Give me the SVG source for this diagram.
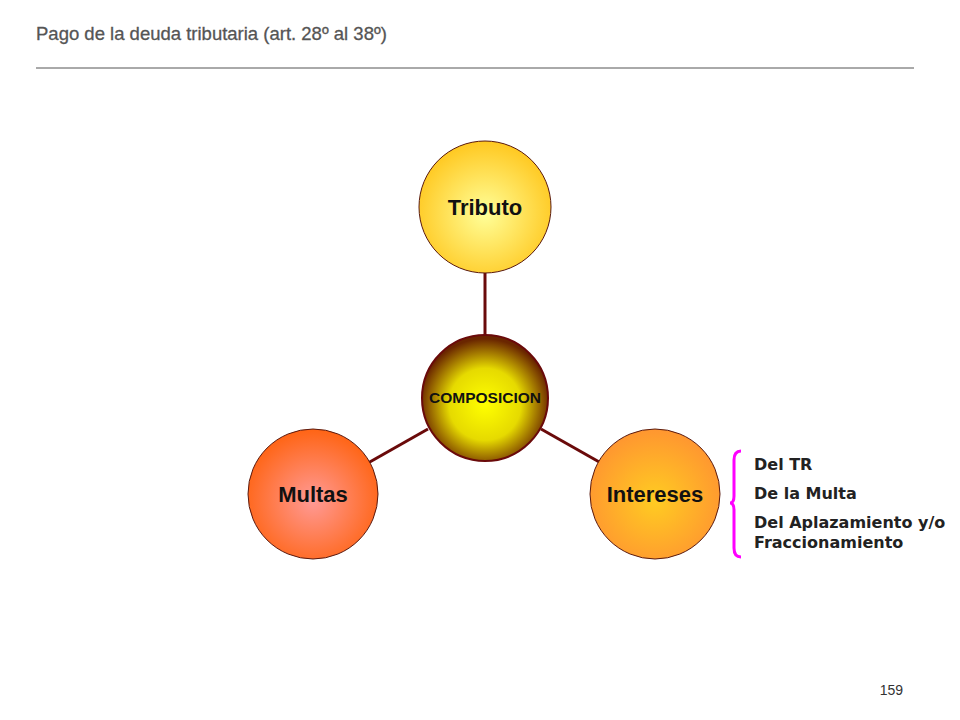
<svg xmlns="http://www.w3.org/2000/svg" width="960" height="720" viewBox="0 0 960 720">
<defs>
<radialGradient id="gTrib" cx="50%" cy="55%" r="55%">
<stop offset="0" stop-color="#ffff99"/>
<stop offset="1" stop-color="#ffc820"/>
</radialGradient>
<radialGradient id="gComp" cx="50%" cy="55%" r="52%">
<stop offset="0" stop-color="#ffff00"/>
<stop offset="0.55" stop-color="#e6da00"/>
<stop offset="1" stop-color="#6a2600"/>
</radialGradient>
<radialGradient id="gMult" cx="50%" cy="55%" r="55%">
<stop offset="0" stop-color="#ff9a96"/>
<stop offset="1" stop-color="#ff6414"/>
</radialGradient>
<radialGradient id="gInt" cx="50%" cy="55%" r="55%">
<stop offset="0" stop-color="#ffcc22"/>
<stop offset="1" stop-color="#ff9630"/>
</radialGradient>
<style>
.node{stroke:#5a1a10;stroke-width:1}
.lbl{font-family:"Liberation Sans",Arial,sans-serif;font-size:22px;font-weight:bold;fill:#111;text-anchor:middle}
.conn{stroke:#6a0a0a;stroke-width:3;fill:none}
.side{font-family:"DejaVu Sans",Verdana,sans-serif;font-size:16px;font-weight:bold;fill:#222}
</style>
</defs>
<g id="header">
<text x="36" y="40" font-family="Liberation Sans, Arial, sans-serif" font-size="18.5" fill="#555" stroke="#555" stroke-width="0.3">Pago de la deuda tributaria (art. 28º al 38º)</text>
<line x1="36" y1="68" x2="914" y2="68" stroke="#555" stroke-width="1"/>
</g>
<g id="connectors">
<line class="conn" x1="485" y1="270" x2="485" y2="336"/>
<line class="conn" x1="428" y1="429" x2="368" y2="463"/>
<line class="conn" x1="541" y1="429" x2="601" y2="463"/>
</g>
<g id="tributo">
<circle class="node" cx="485" cy="207" r="66" fill="url(#gTrib)"/>
<text class="lbl" x="485" y="215">Tributo</text>
</g>
<g id="composicion">
<circle cx="485" cy="398" r="63" fill="url(#gComp)" stroke="#6a0a0a" stroke-width="2"/>
<text x="485" y="403" font-family="Liberation Sans, Arial, sans-serif" font-size="15.5" font-weight="bold" fill="#111" text-anchor="middle">COMPOSICION</text>
</g>
<g id="multas">
<circle class="node" cx="313" cy="494" r="65" fill="url(#gMult)"/>
<text class="lbl" x="313" y="502">Multas</text>
</g>
<g id="intereses">
<circle class="node" cx="655" cy="494" r="65" fill="url(#gInt)"/>
<text class="lbl" x="655" y="502">Intereses</text>
</g>
<g id="detalle">
<path d="M741 451 Q734 451 734 460 L734 496 Q734 503 730 503 Q734 503 734 510 L734 548 Q734 557 741 557" fill="none" stroke="#ff00ff" stroke-width="3"/>
<text class="side" x="754" y="470">Del TR</text>
<text class="side" x="754" y="499">De la Multa</text>
<text class="side" x="754" y="528">Del Aplazamiento y/o</text>
<text class="side" x="754" y="548">Fraccionamiento</text>
</g>
<text x="903" y="695" font-family="Liberation Sans, Arial, sans-serif" font-size="14" fill="#333" text-anchor="end">159</text>
</svg>
